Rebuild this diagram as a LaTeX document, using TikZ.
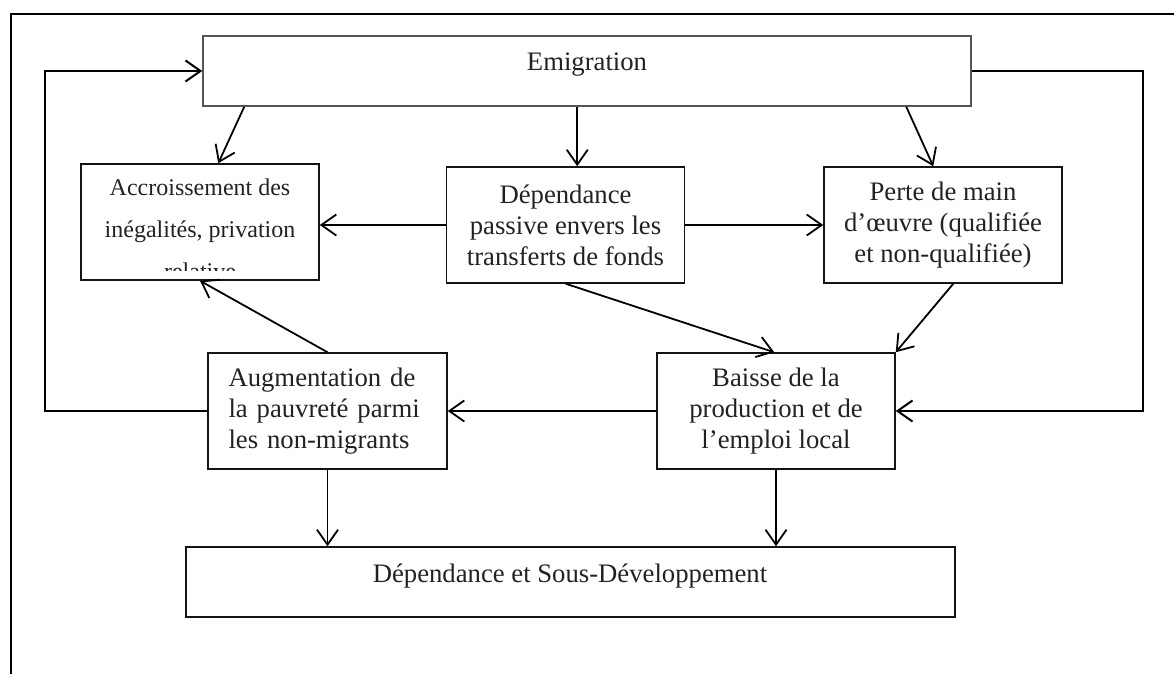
\documentclass[tikz,border=0pt]{standalone}
\usepackage{fontspec}
\setmainfont{Liberation Serif}
\usetikzlibrary{arrows.meta,calc}
\definecolor{ink}{RGB}{34,34,34}
\definecolor{edge}{RGB}{20,20,20}
\definecolor{edgegray}{RGB}{85,85,85}
\begin{document}
\begin{tikzpicture}[x=1pt,y=-1pt,
  box/.style={draw=edge,line width=1.5pt,rectangle,inner sep=0pt,minimum width=238pt,minimum height=116pt,text=ink,font=\fontsize{26.7}{31}\selectfont,align=center},
  wide/.style={draw=edge,line width=1.5pt,rectangle,inner sep=0pt,minimum width=768pt,minimum height=70pt},
  lbl/.style={text=ink,font=\fontsize{26.7}{31}\selectfont,inner sep=0pt,anchor=base},
  small/.style={lbl,font=\fontsize{24}{28}\selectfont},
  arr/.style={draw=black,line width=1.8pt,-{Straight Barb[length=15pt,width=21pt]}},
]
\useasboundingbox (0,0) rectangle (1174,674);
\draw[line width=2pt] (11,674) -- (11,14) -- (1174,14);

\node[wide,draw=edgegray] (emig) at (587,71) {};
\node[lbl] (emigt) at (587,71) {Emigration};

\begin{scope}
\clip (82,165) rectangle (318,270);
\node[small] (acc1) at (200,195) {Accroissement des};
\node[small] (acc2) at (200,237) {inégalités, privation};
\node[small] (acc3) at (200,279) {relative};
\end{scope}
\node[box] (acc) at (200,222) {};

\node[box] (dep) at (565.5,225) {Dépendance\\passive envers les\\transferts de fonds};
\node[box] (perte) at (943,225) {Perte de main\\d’œuvre (qualifiée\\et non-qualifiée)};
\node[box,minimum width=239pt,text width=198pt,align=left] (aug) at (327.5,411) {Augmentation de\\la pauvreté parmi\\les non-migrants};
\node[box] (baisse) at (776,411) {Baisse de la\\production et de\\l’emploi local};
\node[wide,minimum width=769pt] (final) at (570.5,582) {};
\node[lbl] (finalt) at (570,582) {Dépendance et Sous-Développement};

\draw[arr] ([xshift=42pt]emig.south west) -- ([xshift=138pt]acc.north west);
\draw[arr] ([xshift=375pt]emig.south west) -- ([xshift=131.5pt]dep.north west);
\draw[arr] ([xshift=704pt]emig.south west) -- ([xshift=110pt]perte.north west);
\draw[arr] (dep.west) -- (dep.west -| acc.east);
\draw[arr] (dep.east) -- (dep.east -| perte.west);
\draw[arr] ([xshift=120pt]dep.south west) -- ([xshift=118pt]baisse.north west);
\draw[arr] ([xshift=130pt]perte.south west) -- (baisse.north east);
\draw[arr] (aug.north) -- (acc.south);
\draw[arr] (baisse.west) -- (aug.east);
\draw[arr] (aug.south) -- (aug.south |- final.north);
\draw[arr] (baisse.south) -- (baisse.south |- final.north);

\coordinate (lA) at (45,411);
\coordinate (lB) at (45,71);
\draw[arr,line width=2pt] (aug.west) -- (lA) -- (lB) -- (emig.west);
\coordinate (rA) at (1143,71);
\coordinate (rB) at (1143,411);
\draw[arr,line width=2pt] (emig.east) -- (rA) -- (rB) -- (baisse.east);
\end{tikzpicture}
\end{document}
